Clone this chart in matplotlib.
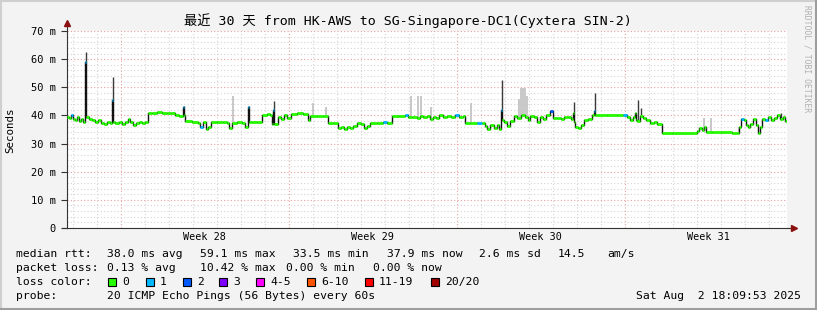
import numpy as np
import matplotlib
matplotlib.use("Agg")
import matplotlib.pyplot as plt
from matplotlib.patches import Rectangle
from matplotlib.lines import Line2D
from matplotlib.transforms import blended_transform_factory

# time axis: hours since Thu Jul 3 18:09 (30 days shown)
hours = [0, 2, 4, 6, 8, 10, 12, 14, 16, 18, 19, 22, 25, 28, 31, 34, 37, 40, 43, 45,
         46, 48, 52, 55, 58, 61, 63, 66, 69, 72, 75, 78, 81, 85, 90, 95, 100, 104, 108, 112,
         116, 117, 118, 125, 131, 133, 136, 139, 141, 144, 150, 156, 160, 162, 165, 170, 175, 178, 181, 182,
         185, 190, 195, 200, 203, 205, 206, 207, 211, 214, 217, 220, 224, 230, 236, 241, 243, 250, 256, 261,
         266, 271, 274, 277, 280, 283, 286, 290, 294, 297, 300, 303, 310, 316, 320, 325, 332, 338, 341, 345,
         350, 353, 356, 360, 363, 366, 369, 372, 376, 380, 384, 388, 392, 396, 398, 403, 410, 415, 418, 420,
         423, 427, 430, 432, 434, 435, 437, 440, 443, 447, 450, 454, 458, 461, 463, 467, 470, 473, 476, 479,
         483, 486, 490, 494, 497, 501, 504, 506, 507, 508, 511, 514, 517, 521, 525, 527, 528, 530, 540, 550,
         556, 560, 563, 566, 568, 569, 570, 573, 576, 579, 583, 587, 590, 595, 605, 615, 625, 630, 632, 635,
         637, 639, 645, 655, 665, 670, 672, 674, 677, 679, 681, 683, 686, 689, 691, 693, 695, 698, 701, 704,
         707, 710, 713, 716, 718]
# median rtt in ms
rtt = [39.5, 39.0, 40.3, 38.8, 38.3, 39.3, 38.0, 38.8, 37.8, 59.1, 39.5, 38.8, 38.5, 37.5, 38.2, 37.3, 37.0, 37.6, 37.2, 45.5,
       37.8, 37.3, 37.8, 36.8, 37.5, 38.6, 37.5, 36.6, 37.3, 37.8, 37.2, 37.6, 41.0, 40.9, 41.3, 41.0, 40.8, 41.0, 40.2, 39.8,
       43.0, 40.2, 38.0, 37.8, 37.3, 35.8, 37.5, 35.3, 36.0, 37.8, 37.6, 37.5, 37.2, 35.5, 37.3, 37.8, 37.4, 35.8, 43.0, 37.6,
       37.6, 37.5, 40.2, 40.5, 40.0, 37.0, 42.0, 36.8, 39.5, 38.8, 40.0, 39.0, 40.6, 40.8, 40.5, 38.5, 39.8, 39.7, 39.9, 37.4,
       37.3, 35.4, 35.9, 35.2, 36.0, 35.4, 36.3, 37.2, 37.0, 35.5, 36.3, 37.3, 37.3, 37.5, 37.3, 39.8, 39.8, 40.2, 39.4, 39.6,
       39.0, 39.7, 39.5, 39.8, 38.8, 39.5, 39.2, 40.0, 39.5, 39.8, 39.4, 40.0, 39.3, 39.8, 37.3, 37.3, 37.4, 37.3, 36.3, 35.2,
       36.5, 35.5, 36.5, 35.3, 42.0, 38.5, 37.5, 36.2, 38.0, 39.8, 39.0, 40.0, 39.3, 38.3, 39.8, 39.5, 37.8, 39.3, 38.8, 40.0,
       41.5, 39.0, 39.2, 38.8, 39.4, 39.5, 38.8, 41.0, 37.5, 36.0, 35.5, 36.5, 38.5, 38.8, 40.0, 41.5, 40.0, 40.0, 40.0, 40.0,
       40.2, 39.5, 38.5, 39.5, 41.0, 38.5, 38.0, 39.8, 39.0, 38.2, 37.3, 37.6, 36.8, 33.6, 33.6, 33.7, 33.6, 34.5, 35.5, 34.8,
       36.0, 34.0, 34.0, 34.1, 33.9, 33.9, 36.0, 38.6, 38.3, 36.5, 35.8, 37.0, 38.6, 36.5, 33.7, 36.0, 38.8, 38.5, 39.5, 38.2,
       39.0, 40.2, 38.8, 39.5, 38.0]

# pings lost (of 20) where not zero
loss_hours = [4, 18, 45, 116, 133, 181, 206, 316, 338, 388, 410, 434, 483, 527, 556, 674, 698]
loss_count = [1, 1, 1, 1, 1, 1, 1, 1, 1, 1, 1, 1, 2, 1, 1, 1, 1]

# smoke spikes: hour, top (ms), dark or light
smoke_hours = [18, 45, 116, 165, 181, 206, 245, 258, 343, 350, 353, 363, 403, 434,
               451, 453, 455, 457, 459, 506, 527, 570, 573, 636, 643, 671, 713]
smoke_top = [62.5, 53.7, 43.5, 47.0, 43.5, 45.0, 44.4, 43.0, 47.0, 47.0, 47.0, 43.0, 44.4, 52.6,
             46.0, 49.7, 49.7, 49.7, 47.0, 44.8, 48.0, 45.5, 42.6, 39.0, 39.0, 36.0, 40.9]
smoke_dark = [1, 1, 1, 0, 1, 1, 0, 0, 0, 0, 0, 0, 0, 1,
              0, 0, 0, 0, 0, 1, 1, 1, 1, 0, 0, 0, 1]

loss_labels = ["0", "1", "2", "3", "4-5", "6-10", "11-19", "20/20"]
loss_colors = ["#26ff00", "#00b8ff", "#0059ff", "#7e00ff", "#ff00ff", "#ff5500", "#ff0000", "#a10000"]

title = "最近 30 天 from HK-AWS to SG-Singapore-DC1(Cyxtera SIN-2)"
week_labels = ["Week 28", "Week 29", "Week 30", "Week 31"]
week_starts = [53.85, 221.85, 389.85, 557.85]

mono = ["DejaVu Sans Mono", "Noto Sans CJK SC"]
W, H = 817, 310

fig = plt.figure(figsize=(W / 100, H / 100), dpi=100, facecolor="#f3f3f3")
ax = fig.add_axes([67 / W, 82 / H, 720 / W, 197 / H])
ax.set_facecolor("white")
ax.set_xlim(0, 720)
ax.set_ylim(0, 70)

# grid
ax.set_xticks(week_starts)
ax.set_xticks(np.arange(5.85, 720, 24), minor=True)
ax.set_yticks(np.arange(0, 71, 10))
ax.set_yticks(np.arange(0, 71, 2), minor=True)
ax.grid(which="minor", color="#d4d4d4", linestyle=(0, (1, 2)), linewidth=0.8)
ax.grid(which="major", color="#e8a0a0", linestyle=(0, (1, 2)), linewidth=0.8)
ax.set_axisbelow(True)
ax.tick_params(axis="x", which="both", length=0, labelbottom=False)
ax.tick_params(axis="y", which="minor", length=0)
ax.tick_params(axis="y", which="major", length=4, width=0.8, color="#333333", pad=4, labelsize=7.5)
ax.set_yticklabels(["0"] + ["%d m" % v for v in range(10, 71, 10)], family=mono)
for s in ["top", "right"]:
    ax.spines[s].set_visible(False)
for s in ["left", "bottom"]:
    ax.spines[s].set_color("#333333")
    ax.spines[s].set_linewidth(0.8)

# smoke
t = np.array(hours)
m = np.array(rtt)
idx = np.searchsorted(t, smoke_hours, side="right") - 1
for h, top, dk, i in zip(smoke_hours, smoke_top, smoke_dark, idx):
    ax.vlines(h + 0.5, m[i], top, color="#3a3a3a" if dk else "#c4c4c4", linewidth=1.0 if dk else 1.3, zorder=2)

# median line, coloured by loss
tt = np.append(t, 720)
mm = np.append(m, m[-1])
ax.plot(tt, mm, drawstyle="steps-post", color="#111111", linewidth=1.0, zorder=3)
lossmap = dict(zip(loss_hours, loss_count))
seg_colors = [loss_colors[lossmap.get(h, 0)] for h in hours]
ax.hlines(m, t, tt[1:], colors=seg_colors, linewidth=2.0, zorder=4)

# axis arrows
ax.plot([0, 0], [70, 72.8], color="#333333", linewidth=0.8, clip_on=False)
ax.plot([0], [72.8], marker="^", markersize=4, color="#8b1010", clip_on=False)
ax.plot([-5, 0], [0, 0], color="#333333", linewidth=0.8, clip_on=False)
ax.plot([720, 727], [0, 0], color="#333333", linewidth=0.8, clip_on=False)
ax.plot([727], [0], marker=">", markersize=4, color="#8b1010", clip_on=False)

# week labels
tr = blended_transform_factory(ax.transData, fig.transFigure)
for ws, lab in zip(week_starts, week_labels):
    ax.text(ws + 84, 1 - 237 / H, lab, transform=tr, ha="center", va="center", fontsize=7.3, family=mono)

def ftext(x, y, s, **kw):
    kw.setdefault("family", mono)
    kw.setdefault("fontsize", 8.2)
    kw.setdefault("va", "center")
    fig.text(x / W, 1 - y / H, s, **kw)

ftext(408, 21, title, ha="center", fontsize=9.5)
ftext(10, 130, "Seconds", ha="center", rotation=90, fontsize=7.8)
ftext(807, 5, "RRDTOOL / TOBI OETIKER", ha="center", va="top", rotation=270, fontsize=5.8, color="#b0b0b0")

ftext(16, 254, "median rtt:")
for x, s in zip([107, 200, 293, 387, 479, 558, 607],
                ["38.0 ms avg", "59.1 ms max", "33.5 ms min", "37.9 ms now", "2.6 ms sd", "14.5", "am/s"]):
    ftext(x, 254, s)
ftext(16, 268, "packet loss:")
for x, s in zip([107, 200, 286, 373], ["0.13 % avg", "10.42 % max", "0.00 % min", "0.00 % now"]):
    ftext(x, 268, s)
ftext(16, 282, "loss color:")
for x, lab, c in zip([108, 146, 183, 219, 256, 307, 365, 431], loss_labels, loss_colors):
    fig.add_artist(Rectangle((x / W, 1 - 286 / H), 8 / W, 8 / H, transform=fig.transFigure,
                             facecolor=c, edgecolor="black", linewidth=0.8))
    ftext(x + 14, 282, lab)
ftext(16, 296, "probe:")
ftext(107, 296, "20 ICMP Echo Pings (56 Bytes) every 60s")
ftext(801, 296, "Sat Aug  2 18:09:53 2025", ha="right")

# frame shading
fig.add_artist(Line2D([0, 1], [1 - 0.5 / H, 1 - 0.5 / H], transform=fig.transFigure, color="#cfcfcf", linewidth=1.5))
fig.add_artist(Line2D([0.5 / W, 0.5 / W], [0, 1], transform=fig.transFigure, color="#cfcfcf", linewidth=1.5))
fig.add_artist(Line2D([0, 1], [1.2 / H, 1.2 / H], transform=fig.transFigure, color="#9e9e9e", linewidth=2.2))
fig.add_artist(Line2D([1 - 1.2 / W, 1 - 1.2 / W], [0, 1], transform=fig.transFigure, color="#9e9e9e", linewidth=2.2))

fig.savefig("out.png", dpi=100, facecolor=fig.get_facecolor())
